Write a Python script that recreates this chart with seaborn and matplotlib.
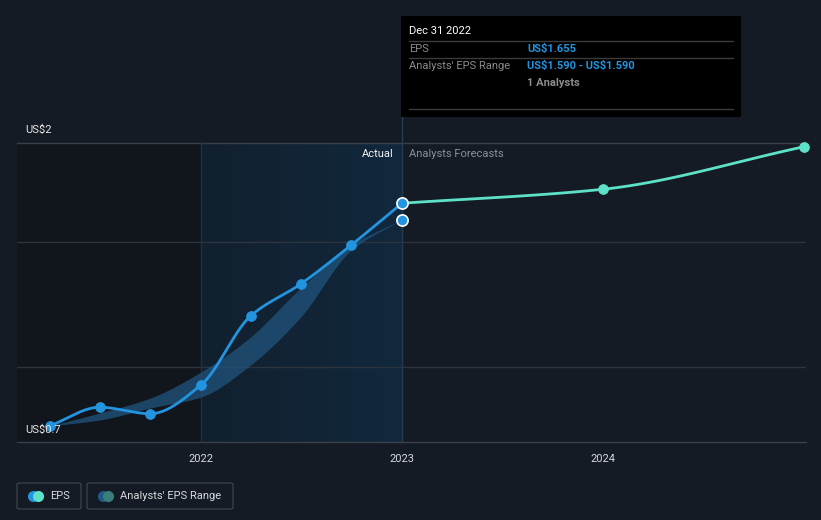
import numpy as np
import pandas as pd
import matplotlib
matplotlib.use("Agg")
import matplotlib.pyplot as plt
import seaborn as sns
from matplotlib.patches import Rectangle, FancyBboxPatch
from matplotlib.lines import Line2D

# values
actual_dates = ["2021-03-31", "2021-06-30", "2021-09-30", "2021-12-31",
                "2022-03-31", "2022-06-30", "2022-09-30", "2022-12-31"]
actual_eps = [0.764, 0.839, 0.813, 0.928, 1.204, 1.332, 1.488, 1.655]
range_low = [0.764, 0.788, 0.836, 0.88, 1.008, 1.2, 1.468, 1.59]
range_high = [0.764, 0.816, 0.876, 0.98, 1.12, 1.316, 1.488, 1.59]
forecast_dates = ["2022-12-31", "2023-12-31", "2024-12-31"]
forecast_eps = [1.655, 1.711, 1.881]
year_ticks = [2022, 2023, 2024]

BG = "#151b24"
BLUE = "#2394df"
TEAL = "#5de2c8"
GRID = "#2e343d"
W, H = 821, 520


def to_year(dates):
  # dates -> decimal years (Dec 31 counts as the start of the next year)
  ts = pd.to_datetime(pd.Series(dates)) + pd.Timedelta(days=1)
  return (ts.dt.year + (ts.dt.dayofyear - 1) / 365.0).to_numpy()


def smooth(x, y, n=30):
  """monotone cubic (Fritsch-Carlson) curve through the points"""
  x = np.asarray(x, float)
  y = np.asarray(y, float)
  h = np.diff(x)
  d = np.diff(y) / h
  m = np.zeros_like(y)
  m[0], m[-1] = d[0], d[-1]
  for i in range(1, len(y) - 1):
    if d[i - 1] * d[i] <= 0:
      m[i] = 0
    else:
      w1 = 2 * h[i] + h[i - 1]
      w2 = h[i] + 2 * h[i - 1]
      m[i] = (w1 + w2) / (w1 / d[i - 1] + w2 / d[i])
  xs, ys = [], []
  for i in range(len(h)):
    t = np.linspace(0, 1, n, endpoint=False)
    h00 = 2 * t**3 - 3 * t**2 + 1
    h10 = t**3 - 2 * t**2 + t
    h01 = -2 * t**3 + 3 * t**2
    h11 = t**3 - t**2
    xs.append(x[i] + t * h[i])
    ys.append(h00 * y[i] + h10 * h[i] * m[i] + h01 * y[i + 1] + h11 * h[i] * m[i + 1])
  xs.append([x[-1]])
  ys.append([y[-1]])
  return np.concatenate(xs), np.concatenate(ys)


def fx(px):
  return px / W


def fy(py):
  return 1 - py / H


sns.set_style("dark")
plt.rcParams["font.family"] = ["Roboto", "DejaVu Sans"]

fig = plt.figure(figsize=(W / 100, H / 100), dpi=100, facecolor=BG)
ax = fig.add_axes([fx(17), fy(442), (806 - 17) / W, 299 / H])
ax.set_facecolor(BG)
x_left = 2022 + (17 - 201) / 201
x_right = 2022 + (806 - 201) / 201
ax.set_xlim(x_left, x_right)
y_min = 0.7
y_max = 0.7 + 299 / 250
ax.set_ylim(y_min, y_max)

# background bands
ax.axvspan(x_left, 2022, color="#11151c", zorder=0, lw=0)
grad = np.linspace(0, 1, 256).reshape(1, -1)
ax.imshow(grad, extent=[2022, 2023, y_min, y_max], aspect="auto",
          cmap=matplotlib.colors.LinearSegmentedColormap.from_list("g", ["#12202e", "#11283d"]),
          zorder=0.5)

for v in [1.0, 1.5]:
  ax.axhline(v, color=GRID, lw=1, zorder=1)
ax.axhline(y_max, color="#3a4049", lw=1, zorder=1, clip_on=False)
ax.axvline(2022, color="#1e3245", lw=1, zorder=1)
ax.axvline(2023, ymin=0, ymax=(442 - 16) / 299, color="#263a4d", lw=1, zorder=1, clip_on=False)

# analysts' range band
ax_t = to_year(actual_dates)
bx, blo = smooth(ax_t, range_low)
_, bhi = smooth(ax_t, range_high)
ax.fill_between(bx, blo, bhi, color="#21547d", alpha=0.75, lw=0, zorder=2)

# actual EPS
sx, sy = smooth(ax_t, actual_eps)
ax.plot(sx, sy, color=BLUE, lw=2.0, zorder=3, solid_capstyle="round")
df_act = pd.DataFrame({"x": ax_t[:-1], "eps": actual_eps[:-1]})
sns.scatterplot(data=df_act, x="x", y="eps", ax=ax, color=BLUE, s=50, edgecolor=BLUE, zorder=4)

# forecast
ft = to_year(forecast_dates)
fxs, fys = smooth(ft, forecast_eps)
ax.plot(fxs, fys, color=TEAL, lw=2.0, zorder=3, solid_capstyle="round")
df_fc = pd.DataFrame({"x": ft[1:], "eps": forecast_eps[1:]})
sns.scatterplot(data=df_fc, x="x", y="eps", ax=ax, color=TEAL, s=50, edgecolor=TEAL, zorder=4, clip_on=False)

# highlighted points at Dec 31 2022
ax.scatter([ax_t[-1], ax_t[-1]], [actual_eps[-1], range_low[-1]], s=65, color=BLUE,
           edgecolor="white", linewidth=1.2, zorder=5)

for s in ["top", "right", "left"]:
  ax.spines[s].set_visible(False)
ax.spines["bottom"].set_color("#3a4049")
ax.spines["bottom"].set_linewidth(1)
ax.set_xticks(year_ticks)
ax.set_xticklabels([str(y) for y in year_ticks])
ax.tick_params(axis="x", colors="#3a4049", labelcolor="#d6d8db", labelsize=8, length=5, width=1, pad=4)
ax.set_yticks([])
ax.set_xlabel("")
ax.set_ylabel("")
ax.grid(False)

fig.text(fx(25), fy(130), "US\\$2", color="#e6e6e6", fontsize=8, va="center")
fig.text(fx(25), fy(430), "US\\$0.7", color="#e6e6e6", fontsize=8, va="center")
fig.text(fx(394), fy(154), "Actual", color="#f2f2f2", fontsize=8, va="center", ha="right")
fig.text(fx(409), fy(154), "Analysts Forecasts", color="#8c9096", fontsize=8, va="center")

# tooltip
fig.patches.append(Rectangle((fx(401), fy(117)), (741 - 401) / W, (117 - 16) / H,
                             transform=fig.transFigure, facecolor="#000000", edgecolor="none", zorder=10))
for py in [41, 58, 109]:
  fig.lines.append(Line2D([fx(409), fx(733)], [fy(py), fy(py)], transform=fig.transFigure,
                          color="#3a3a3a", lw=1, zorder=11))
fig.text(fx(409), fy(31), "Dec 31 2022", color="white", fontsize=8, va="center", zorder=12)
fig.text(fx(409), fy(49), "EPS", color="#8c8c8c", fontsize=8, va="center", zorder=12)
fig.text(fx(527), fy(49), "US\\$1.655", color=BLUE, fontsize=8, va="center", fontweight="bold", zorder=12)
fig.text(fx(409), fy(66), "Analysts' EPS Range", color="#8c8c8c", fontsize=8, va="center", zorder=12)
fig.text(fx(527), fy(66), "US\\$1.590 - US\\$1.590", color=BLUE, fontsize=8, va="center", fontweight="bold", zorder=12)
fig.text(fx(527), fy(83), "1 Analysts", color="#8c8c8c", fontsize=8, va="center", fontweight="bold", zorder=12)

# legend boxes
for (x0, x1, label, c1, c2) in [(17, 81, "EPS", BLUE, TEAL), (87, 233, "Analysts' EPS Range", "#1f5a85", "#3a7d7a")]:
  fig.patches.append(FancyBboxPatch((fx(x0), fy(509)), (x1 - x0) / W, 26 / H, boxstyle="round,pad=0,rounding_size=0.003",
                                    transform=fig.transFigure, facecolor="none", edgecolor="#3a4049", lw=1))
  fig.lines.append(Line2D([fx(x0 + 16)], [fy(496)], transform=fig.transFigure, marker="o",
                          markersize=8, color=c1, markeredgewidth=0))
  fig.lines.append(Line2D([fx(x0 + 21)], [fy(496)], transform=fig.transFigure, marker="o",
                          markersize=8, color=c2, markeredgewidth=0))
  fig.text(fx(x0 + 33), fy(496), label, color="#d6d8db", fontsize=8, va="center")

fig.savefig("out.png", dpi=100, facecolor=BG)
